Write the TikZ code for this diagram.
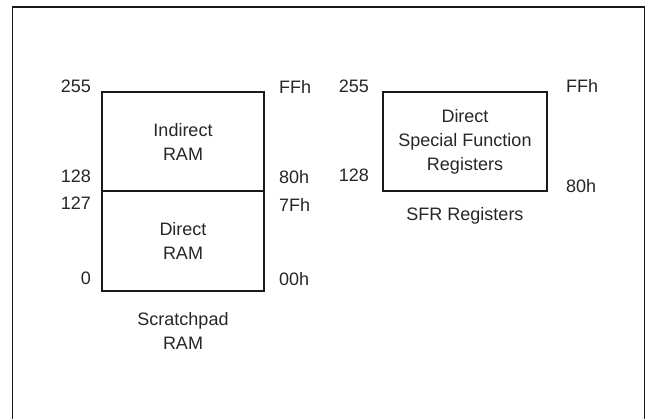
\documentclass[tikz,border=0pt]{standalone}
\usepackage{fontspec}
\setmainfont{Liberation Sans}
\usetikzlibrary{positioning}
\begin{document}
\begin{tikzpicture}[x=1pt,y=-1pt,
  every node/.style={font=\fontsize{18}{24}\selectfont,text=black!85},
  memblock/.style={draw=black!90,line width=1.6pt,inner sep=0pt,outer sep=0pt,
    align=center,anchor=north west},
  addr/.style={inner sep=0pt,anchor=base east},
  hexaddr/.style={inner sep=0pt,anchor=base west},
  caption/.style={inner sep=0pt,align=center}]
  \useasboundingbox (0,0) rectangle (647,418);
  \draw[line width=1.6pt,black!90] (12.5,420) -- (12.5,7) -- (644.5,7) -- (644.5,420);
  % scratchpad ram
  \node[memblock,minimum width=162pt,minimum height=99pt] (indirect) at (102,92) {Indirect\\RAM};
  \node[memblock,minimum width=162pt,minimum height=100pt] (direct) at (102,191) {Direct\\RAM};
  \node[addr] (l255) at (91,92.5) {255};
  \node[addr] (l128) at (91,182.5) {128};
  \node[addr] (l127) at (91,209.5) {127};
  \node[addr] (l0) at (91,284.5) {0};
  \node[hexaddr] (lFF) at (279,93.5) {FFh};
  \node[hexaddr] (l80) at (279,183.5) {80h};
  \node[hexaddr] (l7F) at (279,211.5) {7Fh};
  \node[hexaddr] (l00) at (279,285.5) {00h};
  \node[caption,below=21pt of direct] (scratch) {Scratchpad\\RAM};
  % sfr
  \node[memblock,minimum width=164pt,minimum height=99pt] (sfr) at (383,92) {Direct\\Special Function\\Registers};
  \node[addr] (s255) at (369,92.5) {255};
  \node[addr] (s128) at (369,181.5) {128};
  \node[hexaddr] (sFF) at (566,92.5) {FFh};
  \node[hexaddr] (s80) at (566,192.5) {80h};
  \node[caption,below=16pt of sfr] (sfrcap) {SFR Registers};
\end{tikzpicture}
\end{document}
